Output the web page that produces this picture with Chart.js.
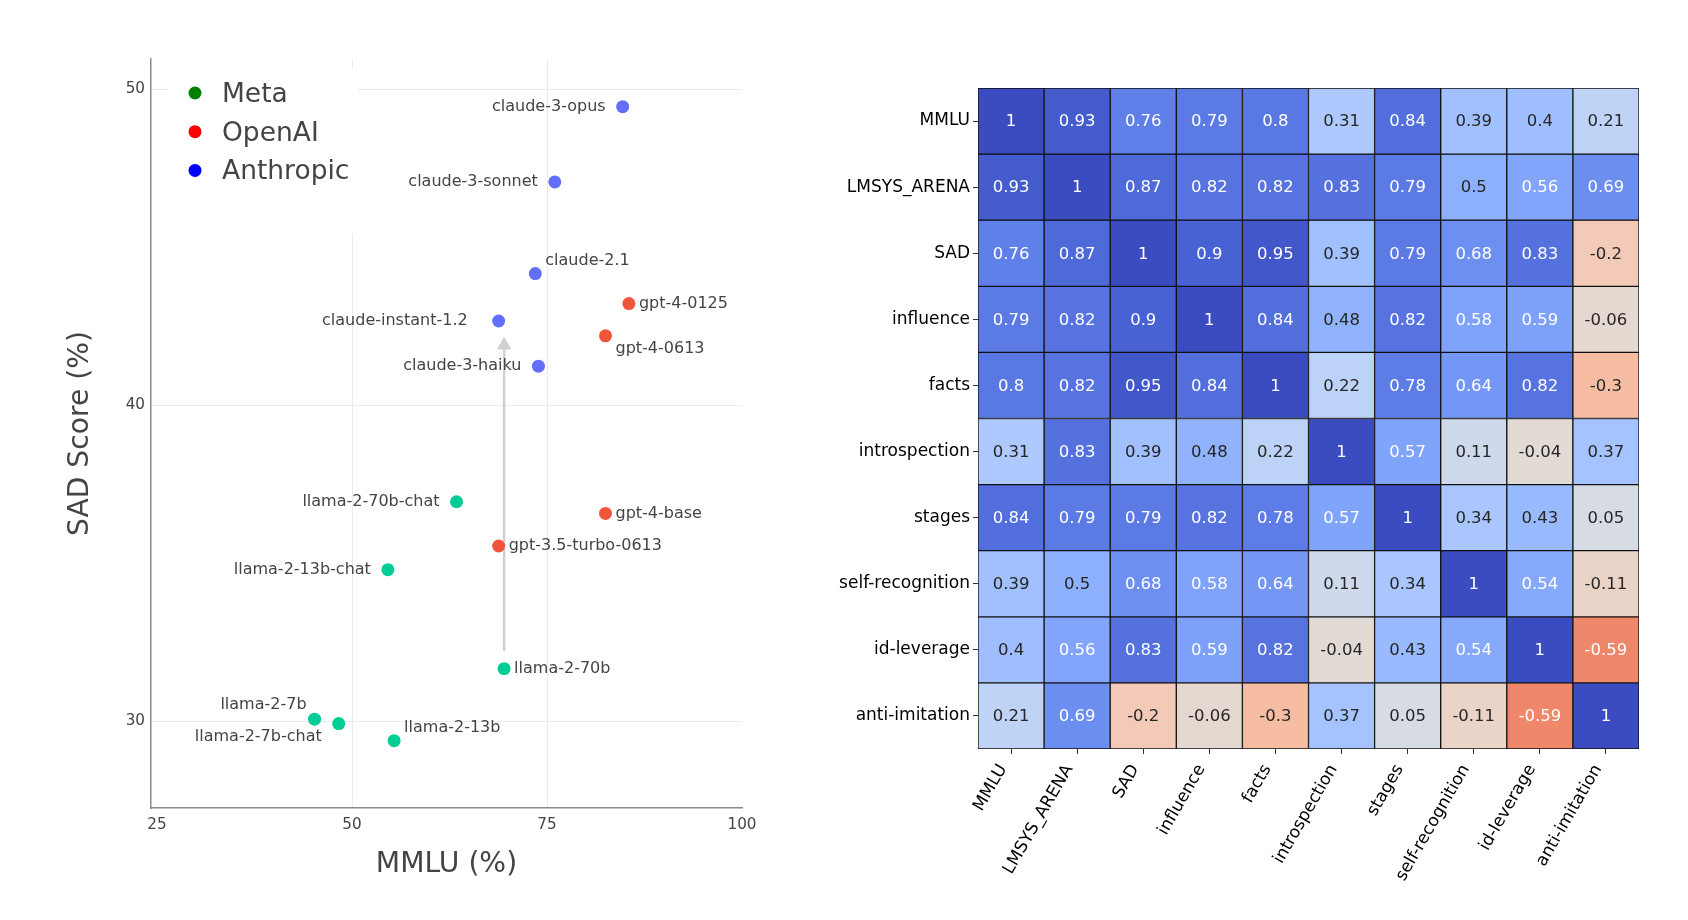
<!DOCTYPE html>
<html>
<head>
<meta charset="utf-8">
<title>SAD score vs MMLU and metric correlations</title>
<script src="https://cdn.jsdelivr.net/npm/chart.js@4.4.1/dist/chart.umd.min.js"></script>
<style>
  html, body { margin: 0; padding: 0; background: #fff; overflow: hidden; }
  #left { position: absolute; left: 0; top: 0; width: 780px; height: 920px; }
  #right { position: absolute; left: 780px; top: 0; width: 908px; height: 920px; }
</style>
</head>
<body>
<div id="left"><canvas id="scatter"></canvas></div>
<div id="right"><canvas id="heatmap"></canvas></div>
<script>
// ---- scatter data (MMLU % vs SAD score %) ----
const metaModels = ['llama-2-7b', 'llama-2-7b-chat', 'llama-2-13b', 'llama-2-13b-chat', 'llama-2-70b', 'llama-2-70b-chat'];
const metaMmlu = [45.2, 48.3, 55.4, 54.6, 69.5, 63.4];
const metaSad = [30.07, 29.93, 29.39, 34.8, 31.67, 36.95];

const openaiModels = ['gpt-3.5-turbo-0613', 'gpt-4-base', 'gpt-4-0613', 'gpt-4-0125'];
const openaiMmlu = [68.8, 82.5, 82.5, 85.5];
const openaiSad = [35.55, 36.58, 42.2, 43.22];

const anthropicModels = ['claude-instant-1.2', 'claude-3-haiku', 'claude-2.1', 'claude-3-sonnet', 'claude-3-opus'];
const anthropicMmlu = [68.8, 73.9, 73.5, 76.0, 84.7];
const anthropicSad = [42.67, 41.24, 44.17, 47.07, 49.45];

// where each model's name sits relative to its point
const metaLabelPos = ['topleft', 'bottomleft', 'topright', 'left', 'right', 'left'];
const openaiLabelPos = ['right', 'right', 'bottomright', 'right'];
const anthropicLabelPos = ['farleft', 'left', 'topright', 'left', 'left'];

// arrow from llama-2-70b up towards claude-instant-1.2
const arrowMmlu = [69.5, 69.5];
const arrowSad = [32.22, 41.9];

const groupNames = ['Meta', 'OpenAI', 'Anthropic'];
const xTicks = [25, 50, 75, 100];
const yTicks = [30, 40, 50];

// ---- heatmap data (correlations) ----
const metricNames = ['MMLU', 'LMSYS_ARENA', 'SAD', 'influence', 'facts', 'introspection', 'stages', 'self-recognition', 'id-leverage', 'anti-imitation'];
const mmluCorr = [1, 0.93, 0.76, 0.79, 0.8, 0.31, 0.84, 0.39, 0.4, 0.21];
const arenaCorr = [0.93, 1, 0.87, 0.82, 0.82, 0.83, 0.79, 0.5, 0.56, 0.69];
const sadCorr = [0.76, 0.87, 1, 0.9, 0.95, 0.39, 0.79, 0.68, 0.83, -0.2];
const influenceCorr = [0.79, 0.82, 0.9, 1, 0.84, 0.48, 0.82, 0.58, 0.59, -0.06];
const factsCorr = [0.8, 0.82, 0.95, 0.84, 1, 0.22, 0.78, 0.64, 0.82, -0.3];
const introspectionCorr = [0.31, 0.83, 0.39, 0.48, 0.22, 1, 0.57, 0.11, -0.04, 0.37];
const stagesCorr = [0.84, 0.79, 0.79, 0.82, 0.78, 0.57, 1, 0.34, 0.43, 0.05];
const selfRecCorr = [0.39, 0.5, 0.68, 0.58, 0.64, 0.11, 0.34, 1, 0.54, -0.11];
const idLeverageCorr = [0.4, 0.56, 0.83, 0.59, 0.82, -0.04, 0.43, 0.54, 1, -0.59];
const antiImitationCorr = [0.21, 0.69, -0.2, -0.06, -0.3, 0.37, 0.05, -0.11, -0.59, 1];
const corrRows = [mmluCorr, arenaCorr, sadCorr, influenceCorr, factsCorr, introspectionCorr, stagesCorr, selfRecCorr, idLeverageCorr, antiImitationCorr];

Chart.defaults.font.family = '"DejaVu Sans", sans-serif';
Chart.defaults.animation = false;

// matplotlib "coolwarm" control points (Moreland diverging map)
const coolwarmStops = [
  [59,76,192],[68,90,204],[77,104,215],[87,117,225],[98,130,234],[108,142,241],[119,154,247],[130,165,251],
  [141,176,254],[152,185,255],[163,194,255],[174,201,253],[184,208,249],[194,213,244],[204,217,238],[213,219,230],
  [221,221,221],[229,216,209],[236,211,197],[241,204,185],[245,196,173],[247,187,160],[247,177,148],[247,166,135],
  [244,154,123],[241,141,111],[236,127,99],[229,112,88],[222,96,77],[213,80,66],[203,62,56],[192,40,47],[180,4,38]
];

function coolwarm(t) {
  t = Math.max(0, Math.min(1, t));
  const pos = t * (coolwarmStops.length - 1);
  const i = Math.min(Math.floor(pos), coolwarmStops.length - 2);
  const f = pos - i;
  const a = coolwarmStops[i], b = coolwarmStops[i + 1];
  return [0, 1, 2].map(k => a[k] + (b[k] - a[k]) * f);
}

// reversed map, vmin -1 / vmax 1
function cellRgb(v) {
  return coolwarm(1 - (v + 1) / 2);
}

function rgbStr(c) {
  return 'rgb(' + c.map(Math.round).join(',') + ')';
}

function luminance(c) {
  const lin = c.map(x => {
    x = x / 255;
    return x <= 0.03928 ? x / 12.92 : Math.pow((x + 0.055) / 1.055, 2.4);
  });
  return 0.2126 * lin[0] + 0.7152 * lin[1] + 0.0722 * lin[2];
}

// ---------- scatter plot ----------
const pointLabels = {
  id: 'pointLabels',
  afterDatasetsDraw(chart) {
    const ctx = chart.ctx;
    ctx.save();
    ctx.font = '16px "DejaVu Sans"';
    ctx.fillStyle = '#444';
    ctx.textBaseline = 'middle';
    chart.data.datasets.forEach((ds, i) => {
      if (!ds.names) return;
      chart.getDatasetMeta(i).data.forEach((pt, j) => {
        const pos = ds.namePos[j];
        let dx = 10, dy = 0, align = 'left';
        if (pos === 'left') { dx = -17; align = 'right'; }
        else if (pos === 'farleft') { dx = -31; align = 'right'; }
        else if (pos === 'topright') { dx = 10; dy = -13; }
        else if (pos === 'bottomright') { dx = 10; dy = 13; }
        else if (pos === 'topleft') { dx = -8; dy = -14; align = 'right'; }
        else if (pos === 'bottomleft') { dx = -17; dy = 13; align = 'right'; }
        ctx.textAlign = align;
        ctx.fillText(ds.names[j], pt.x + dx, pt.y + dy);
      });
    });
    ctx.restore();
  }
};

const groupLegend = {
  id: 'groupLegend',
  beforeDatasetsDraw(chart) {
    const ctx = chart.ctx;
    const area = chart.chartArea;
    const colors = ['#008000', '#ff0000', '#0000ff'];
    ctx.save();
    ctx.fillStyle = '#fff';
    ctx.fillRect(area.left + 17, area.top + 10, 190, 165);
    ctx.font = '26.5px "DejaVu Sans"';
    ctx.textBaseline = 'middle';
    ctx.textAlign = 'left';
    groupNames.forEach((name, i) => {
      const y = area.top + 34 + i * 38.7;
      ctx.fillStyle = colors[i];
      ctx.beginPath();
      ctx.arc(area.left + 44, y, 6.5, 0, Math.PI * 2);
      ctx.fill();
      ctx.fillStyle = '#444';
      ctx.fillText(name, area.left + 71, y + 2);
    });
    ctx.restore();
  }
};

function toPoints(xs, ys) {
  return xs.map((x, i) => ({ x: x, y: ys[i] }));
}

new Chart(document.getElementById('scatter'), {
  type: 'scatter',
  data: {
    datasets: [
      {
        label: 'Meta',
        data: toPoints(metaMmlu, metaSad),
        names: metaModels,
        namePos: metaLabelPos,
        backgroundColor: '#00cc96',
        borderWidth: 0,
        pointRadius: 6.5
      },
      {
        label: 'OpenAI',
        data: toPoints(openaiMmlu, openaiSad),
        names: openaiModels,
        namePos: openaiLabelPos,
        backgroundColor: '#ef553b',
        borderWidth: 0,
        pointRadius: 6.5
      },
      {
        label: 'Anthropic',
        data: toPoints(anthropicMmlu, anthropicSad),
        names: anthropicModels,
        namePos: anthropicLabelPos,
        backgroundColor: '#636efa',
        borderWidth: 0,
        pointRadius: 6.5
      },
      {
        type: 'line',
        label: 'arrow',
        data: toPoints(arrowMmlu, arrowSad),
        showLine: true,
        borderColor: '#d0d0d0',
        borderWidth: 2.5,
        pointStyle: 'triangle',
        pointRadius: [0, 8.5],
        pointBackgroundColor: '#d0d0d0',
        pointBorderWidth: 0,
        order: 1
      }
    ]
  },
  options: {
    responsive: true,
    maintainAspectRatio: false,
    layout: { padding: { left: 0, top: 59, right: 38, bottom: 0 } },
    plugins: {
      legend: { display: false },
      tooltip: { enabled: false }
    },
    scales: {
      x: {
        type: 'linear',
        min: 24.23,
        max: 100,
        afterBuildTicks: s => { s.ticks = xTicks.map(v => ({ value: v })); },
        afterFit: s => { s.height = 112; },
        grid: {
          color: c => (c.tick && (c.tick.value === 50 || c.tick.value === 75)) ? '#ebebeb' : 'rgba(0,0,0,0)',
          drawTicks: false
        },
        border: { color: '#8c8c8c', width: 1.5 },
        ticks: { color: '#444', font: { size: 15.2 }, padding: 8 },
        title: {
          display: true,
          text: 'MMLU (%)',
          color: '#444',
          font: { size: 28.2 },
          padding: { top: 0, bottom: 38 }
        }
      },
      y: {
        type: 'linear',
        min: 27.26,
        max: 50.96,
        afterBuildTicks: s => { s.ticks = yTicks.map(v => ({ value: v })); },
        afterFit: s => { s.width = 151; },
        grid: { color: '#ebebeb', drawTicks: false },
        border: { color: '#8c8c8c', width: 1.5 },
        ticks: { color: '#444', font: { size: 15.2 }, padding: 6 },
        title: {
          display: true,
          text: 'SAD Score (%)',
          color: '#444',
          font: { size: 28.2 },
          padding: { top: 64, bottom: 0 }
        }
      }
    }
  },
  plugins: [groupLegend, pointLabels]
});

// ---------- correlation heatmap ----------
const cellValues = {
  id: 'cellValues',
  afterDatasetsDraw(chart) {
    const ctx = chart.ctx;
    ctx.save();
    ctx.font = '16.5px "DejaVu Sans"';
    ctx.textAlign = 'center';
    ctx.textBaseline = 'middle';
    corrRows.forEach((row, r) => {
      chart.getDatasetMeta(r).data.forEach((bar, c) => {
        const v = row[c];
        ctx.fillStyle = luminance(cellRgb(v)) > 0.408 ? '#262626' : '#ffffff';
        ctx.fillText(String(v), bar.x, (bar.y + bar.base) / 2 + 1);
      });
    });
    ctx.restore();
  }
};

new Chart(document.getElementById('heatmap'), {
  type: 'bar',
  data: {
    labels: metricNames,
    datasets: corrRows.map((row, r) => ({
      label: metricNames[r],
      data: row.map(() => [r, r + 1]),
      backgroundColor: row.map(v => rgbStr(cellRgb(v))),
      borderColor: '#111',
      borderWidth: 1,
      borderSkipped: false,
      barPercentage: 1,
      categoryPercentage: 1,
      grouped: false
    }))
  },
  options: {
    responsive: true,
    maintainAspectRatio: false,
    layout: { padding: { left: 0, top: 88, right: 49, bottom: 0 } },
    plugins: {
      legend: { display: false },
      tooltip: { enabled: false }
    },
    scales: {
      x: {
        type: 'category',
        afterFit: s => { s.height = 171; },
        grid: { offset: false, drawOnChartArea: false, tickLength: 5, tickColor: '#333' },
        border: { display: false },
        ticks: {
          minRotation: 60,
          maxRotation: 60,
          autoSkip: false,
          color: '#000',
          font: { size: 17 },
          padding: 7,
          labelOffset: -8
        }
      },
      y: {
        type: 'linear',
        min: 0,
        max: 10,
        reverse: true,
        afterBuildTicks: s => { s.ticks = metricNames.map((_, i) => ({ value: i + 0.5 })); },
        afterFit: s => { s.width = 198; },
        grid: { drawOnChartArea: false, tickLength: 5, tickColor: '#333' },
        border: { display: false },
        ticks: {
          autoSkip: false,
          color: '#000',
          font: { size: 17 },
          padding: 3,
          callback: (v, i) => metricNames[i]
        }
      }
    }
  },
  plugins: [cellValues]
});
</script>
</body>
</html>
